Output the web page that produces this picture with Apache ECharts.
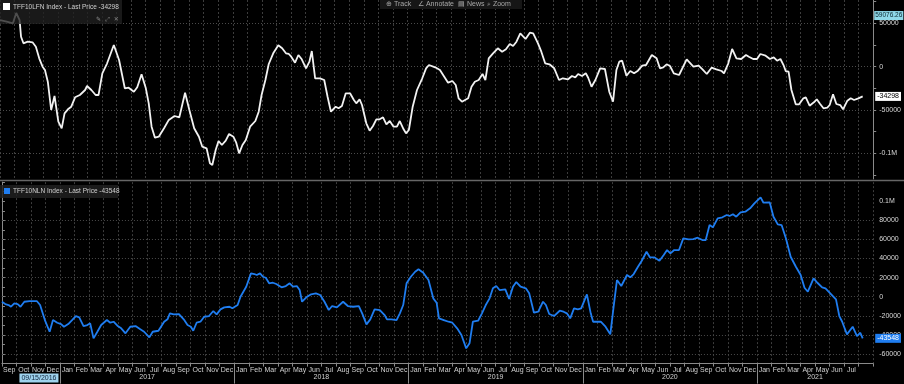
<!DOCTYPE html>
<html><head><meta charset="utf-8">
<script src="https://cdn.jsdelivr.net/npm/echarts@6/dist/echarts.min.js"></script>
<style>html,body{margin:0;padding:0;background:#000}#c{width:904px;height:384px}</style>
</head><body><div id="c"></div>
<script>
// ---------- DATA ----------
const topName = 'TFF10LFN Index - Last Price -34298';
const botName = 'TFF10NLN Index - Last Price -43548';
const topDates = ['2016-09-01','2016-09-15','2016-09-28','2016-10-05','2016-10-12','2016-10-15','2016-10-20','2016-10-29','2016-11-08','2016-11-15','2016-11-22','2016-11-29','2016-12-04','2016-12-10','2016-12-17','2016-12-24',
'2017-01-01','2017-01-08','2017-01-14','2017-01-21','2017-01-28','2017-02-05','2017-02-15','2017-02-26','2017-03-02','2017-03-11','2017-03-20','2017-03-26','2017-04-03','2017-04-13','2017-04-27','2017-05-08','2017-05-20','2017-05-28','2017-06-08','2017-06-15','2017-06-24','2017-07-03','2017-07-09','2017-07-15','2017-07-22','2017-07-30','2017-08-10','2017-08-20','2017-09-01','2017-09-11','2017-09-23','2017-10-02','2017-10-12','2017-10-22','2017-10-29','2017-11-07','2017-11-14','2017-11-19','2017-11-26','2017-12-02','2017-12-09','2017-12-17','2017-12-24',
'2018-01-02','2018-01-08','2018-01-14','2018-01-21','2018-01-28','2018-02-06','2018-02-17','2018-02-24','2018-03-02','2018-03-10','2018-03-17','2018-03-27','2018-04-06','2018-04-14','2018-04-22','2018-04-28','2018-05-03','2018-05-11','2018-05-18','2018-05-25','2018-06-03','2018-06-10','2018-06-15','2018-06-22','2018-07-02','2018-07-11','2018-07-18','2018-07-25','2018-08-04','2018-08-10','2018-08-17','2018-08-25','2018-09-03','2018-09-11','2018-09-16','2018-09-23','2018-09-28','2018-10-07','2018-10-14','2018-10-21','2018-10-28','2018-11-04','2018-11-11','2018-11-18','2018-11-25','2018-12-03','2018-12-10','2018-12-16','2018-12-24','2018-12-29',
'2019-01-04','2019-01-12','2019-01-21','2019-02-01','2019-02-09','2019-02-15','2019-02-28','2019-03-10','2019-03-19','2019-03-27','2019-04-05','2019-04-12','2019-04-18','2019-04-25','2019-05-08','2019-05-15','2019-05-22','2019-05-30','2019-06-07','2019-06-13','2019-06-20','2019-06-29','2019-07-09','2019-07-18','2019-07-26','2019-08-03','2019-08-10','2019-08-17','2019-08-25','2019-08-29','2019-09-05','2019-09-14','2019-09-21','2019-10-01','2019-10-08','2019-10-16','2019-10-25','2019-11-04','2019-11-14','2019-11-22','2019-12-03','2019-12-11','2019-12-18','2019-12-24',
'2020-01-01','2020-01-09','2020-01-14','2020-01-21','2020-01-29','2020-02-08','2020-02-18','2020-02-27','2020-03-06','2020-03-13','2020-03-19','2020-03-25','2020-04-03','2020-04-11','2020-04-19','2020-04-27','2020-05-06','2020-05-14','2020-05-26','2020-06-05','2020-06-12','2020-06-19','2020-06-26','2020-07-03','2020-07-11','2020-07-22','2020-08-07','2020-08-21','2020-09-01','2020-09-09','2020-09-18','2020-09-28','2020-10-08','2020-10-19','2020-10-24','2020-11-02','2020-11-10','2020-11-19','2020-11-29','2020-12-09','2020-12-15','2020-12-24',
'2021-01-01','2021-01-08','2021-01-19','2021-01-28','2021-02-05','2021-02-12','2021-02-19','2021-02-26','2021-03-02','2021-03-08','2021-03-14','2021-03-23','2021-03-30','2021-04-08','2021-04-13','2021-04-21','2021-04-30','2021-05-06','2021-05-13','2021-05-20','2021-05-28','2021-06-02','2021-06-09','2021-06-16','2021-06-24','2021-06-30','2021-07-09','2021-07-16','2021-07-23','2021-08-01','2021-08-10'];
const topValues = [53900,51960,50110,62000,53900,34640,27020,28870,28170,23090,9700,0,-3810,-17320,-50000,-33830,
-63510,-71130,-53810,-49190,-46190,-35330,-32670,-26900,-22290,-26900,-32670,-32670,-7620,3930,25060,7740,-24940,-24250,-28870,-23790,-8780,-24940,-42260,-69280,-81980,-80830,-71130,-61460,-56930,-58430,-30020,-50000,-71130,-80830,-92380,-94220,-111540,-113510,-96190,-85790,-90410,-85450,-77710,
-80830,-87760,-100000,-90410,-84640,-69280,-62700,-51960,-32680,-15360,3120,16170,24710,21250,15470,14670,11550,4620,13510,8540,-1850,5770,18130,-13390,-13390,-15360,-34640,-51960,-46190,-48040,-45380,-30720,-30720,-38450,-42260,-37640,-44230,-65360,-73900,-68470,-60740,-60740,-58430,-66510,-62700,-69280,-69280,-62700,-72280,-76900,
-73090,-46190,-26900,-13390,-1850,1960,-690,-3810,-11550,-18480,-16510,-21130,-36490,-40410,-36490,-23090,-17320,-15360,-8430,-15360,9700,15470,21250,17320,20090,26210,23900,28870,38570,38570,31990,39260,38570,27020,17320,3930,2770,-1850,-15360,-13390,-14550,-10740,-12240,-8430,
-10740,-7620,-12700,-23090,-15360,-1850,-2660,-28870,-40410,-3810,5770,6930,-10390,-4970,-7620,-4620,1150,1960,13510,9700,-1850,-690,2770,810,-7620,-9580,8540,0,1150,-3000,-8430,-1150,-3000,-4970,-7620,3930,20440,9700,8890,13510,11550,8890,
8890,14670,12700,8890,10850,6930,8890,1150,-4970,-5770,-26900,-43420,-43420,-36490,-35330,-45030,-41110,-37640,-43070,-48040,-47340,-44230,-31870,-43070,-44230,-49190,-39260,-36490,-38450,-36490,-34298];

const botDates = ['2016-09-01','2016-09-08','2016-09-15','2016-09-20','2016-09-27','2016-10-04','2016-10-10','2016-10-18','2016-10-29','2016-11-13','2016-11-20','2016-11-30','2016-12-10','2016-12-17','2016-12-26',
'2017-01-03','2017-01-09','2017-01-18','2017-01-26','2017-02-03','2017-02-10','2017-02-19','2017-02-27','2017-03-05','2017-03-12','2017-03-20','2017-03-28','2017-04-09','2017-04-16','2017-04-23','2017-05-01','2017-05-09','2017-05-18','2017-05-28','2017-06-08','2017-06-18','2017-06-26','2017-07-07','2017-07-14','2017-07-26','2017-08-07','2017-08-14','2017-08-19','2017-08-27','2017-09-07','2017-09-17','2017-09-25','2017-10-02','2017-10-07','2017-10-14','2017-10-22','2017-10-30','2017-11-09','2017-11-18','2017-11-25','2017-12-03','2017-12-11','2017-12-22','2017-12-28',
'2018-01-08','2018-01-14','2018-01-26','2018-02-05','2018-02-12','2018-02-17','2018-02-24','2018-03-02','2018-03-08','2018-03-15','2018-03-23','2018-03-30','2018-04-10','2018-04-19','2018-04-27','2018-05-04','2018-05-12','2018-05-18','2018-05-23','2018-06-01','2018-06-11','2018-06-21','2018-06-30','2018-07-09','2018-07-18','2018-07-25','2018-08-04','2018-08-17','2018-08-27','2018-09-07','2018-09-19','2018-09-26','2018-10-05','2018-10-13','2018-10-22','2018-11-02','2018-11-12','2018-11-17','2018-11-26','2018-12-07','2018-12-14','2018-12-21','2018-12-28',
'2019-01-06','2019-01-15','2019-01-22','2019-02-01','2019-02-12','2019-02-22','2019-03-01','2019-03-06','2019-03-16','2019-03-26','2019-04-03','2019-04-13','2019-04-22','2019-05-02','2019-05-09','2019-05-16','2019-05-27','2019-06-04','2019-06-12','2019-06-20','2019-06-27','2019-07-04','2019-07-11','2019-07-23','2019-07-31','2019-08-08','2019-08-15','2019-08-24','2019-09-04','2019-09-11','2019-09-21','2019-09-30','2019-10-10','2019-10-16','2019-10-23','2019-11-02','2019-11-14','2019-11-22','2019-11-29','2019-12-06','2019-12-14','2019-12-22','2019-12-29',
'2020-01-10','2020-01-18','2020-01-23','2020-02-08','2020-02-18','2020-02-28','2020-03-06','2020-03-13','2020-03-22','2020-03-26','2020-04-03','2020-04-10','2020-04-17','2020-04-26','2020-05-04','2020-05-14','2020-05-21','2020-05-30','2020-06-10','2020-06-19','2020-06-26','2020-07-03','2020-07-11','2020-07-21','2020-07-30','2020-08-10','2020-08-20','2020-08-29','2020-09-08','2020-09-15','2020-09-23','2020-09-30','2020-10-10','2020-10-20','2020-10-29','2020-11-04','2020-11-11','2020-11-18','2020-11-27','2020-12-07','2020-12-17','2020-12-26',
'2021-01-08','2021-01-14','2021-01-27','2021-02-04','2021-02-13','2021-02-21','2021-03-02','2021-03-12','2021-03-23','2021-04-02','2021-04-10','2021-04-17','2021-04-29','2021-05-07','2021-05-17','2021-05-24','2021-06-03','2021-06-15','2021-06-22','2021-06-28','2021-07-08','2021-07-20','2021-07-29','2021-08-05','2021-08-10'];
const botValues = [-5240,-7640,-8690,-10470,-6910,-7640,-10470,-5240,-4500,-4500,-8690,-24400,-36650,-24400,-27220,
-28580,-31410,-28580,-24400,-20210,-21570,-30680,-29630,-27850,-43560,-36650,-29630,-24400,-27220,-26180,-30360,-33090,-38320,-31410,-30680,-34130,-36650,-42510,-36650,-35600,-26180,-23660,-17380,-18430,-18110,-23660,-29630,-31410,-35600,-27220,-26180,-20940,-20210,-14970,-18430,-13190,-11100,-10470,-12150,
-8690,0,10470,24500,23770,22720,24500,20940,19890,14030,14660,13300,9840,11200,14030,10470,11200,7010,-5240,-630,2510,3560,1780,-5240,-13930,-9740,-11100,-5240,-9740,-10470,-9740,-17380,-28900,-23660,-13190,-13930,-19160,-23660,-23660,-24400,-17380,-8690,14030,
20940,26180,28690,25130,17490,-1680,-6280,-22620,-24400,-26180,-27220,-33090,-40100,-54030,-48790,-26180,-25130,-17380,-8690,-1680,8790,11200,7010,7750,-2410,10470,15390,10470,8790,3560,-16750,-15700,-5240,-8690,-18110,-20210,-14660,-15700,-17380,-22620,-12150,-13190,-12150,
2510,-17380,-26180,-26180,-31410,-39370,-10470,17490,11200,11200,22720,20310,23770,31410,37690,47120,41250,41250,37690,43660,48890,45440,48890,48890,61140,60100,60410,61770,59360,59360,75070,72660,82080,83130,85540,84490,86270,83760,88370,88990,92550,97790,
104070,98420,98840,83760,75800,75070,61140,41880,31410,22720,9420,5240,19260,14660,9840,8790,3560,-2720,-20210,-26180,-39370,-31410,-41150,-37690,-43548];

const monthLabels = ['Sep','Oct','Nov','Dec',
'Jan','Feb','Mar','Apr','May','Jun','Jul','Aug','Sep','Oct','Nov','Dec',
'Jan','Feb','Mar','Apr','May','Jun','Jul','Aug','Sep','Oct','Nov','Dec',
'Jan','Feb','Mar','Apr','May','Jun','Jul','Aug','Sep','Oct','Nov','Dec',
'Jan','Feb','Mar','Apr','May','Jun','Jul','Aug','Sep','Oct','Nov','Dec',
'Jan','Feb','Mar','Apr','May','Jun','Jul','Aug'];
const yearLabels = ['2017','2018','2019','2020','2021'];
const startDateLabel = '09/15/2016';
const xStart = '2016-09-01', xEnd = '2021-09-01';
const topTickVals = [75000,50000,25000,0,-25000,-50000,-75000,-100000,-125000];
const topLabelVals = [50000,0,-50000,-100000];
const botGridVals = [80000,60000,40000,20000,0,-20000,-40000,-60000];
const topLast = -34298, botLast = -43548, topMarker = 59076.26;

// ---------- CHART ----------
const FONT = 'Liberation Sans, Arial, sans-serif';
const topMin = -129670, topMax = 77020;
const nM = monthLabels.length;
const firstJan = monthLabels.indexOf('Jan');
const yearPos = yearLabels.map((y, k) => {
  const s = firstJan + 12 * k, e = Math.min(s + 12, nM);
  return (s + e) / 2;
});
const sepPos = yearLabels.map((y, k) => firstJan + 12 * k);
const datePos = firstJan / 2 + 0.55;

const gridLine = {color: '#4a4a4a', type: [1, 2], width: 1};
const monthSplit = {show: true, interval: 0, lineStyle: {color: '#3c3c3c', type: [2, 2], width: 1}};
const hidden = {color: 'rgba(0,0,0,0)', width: 0.01};

const chart = echarts.init(document.getElementById('c'), null, {renderer: 'canvas'});
chart.setOption({
  backgroundColor: '#000',
  animation: false,
  textStyle: {fontFamily: FONT},
  grid: [
    {left: 0, right: 28, top: 0, height: 179},
    {left: 0, right: 28, top: 182.1, height: 181.5}
  ],
  xAxis: [
    {type: 'time', gridIndex: 0, min: xStart, max: xEnd, show: false},
    {type: 'category', gridIndex: 0, data: monthLabels, boundaryGap: true,
     axisLine: {show: false}, axisTick: {show: false}, axisLabel: {show: false}, splitLine: monthSplit},
    {type: 'time', gridIndex: 1, min: xStart, max: xEnd, show: false},
    {type: 'category', gridIndex: 1, data: monthLabels, boundaryGap: true, position: 'bottom',
     axisLine: {show: true, lineStyle: {color: '#8a8a8a', width: 1}},
     axisTick: {show: true, interval: 0, length: 3, lineStyle: {color: '#8a8a8a'}},
     axisLabel: {interval: 0, color: '#d0d0d0', fontSize: 7, margin: 3, fontFamily: FONT,
       formatter: (v, i) => i === nM - 1 ? '' : v},
     splitLine: monthSplit},
    {type: 'value', gridIndex: 1, min: 0, max: nM, position: 'bottom',
     axisLine: {show: false}, splitLine: {show: false},
     axisTick: {show: true, customValues: sepPos, length: 20, inside: false, lineStyle: {color: '#8a8a8a'}},
     axisLabel: {customValues: [datePos].concat(yearPos), margin: 10, fontSize: 7, color: '#d0d0d0', fontFamily: FONT,
       formatter: v => {
         if (Math.abs(v - datePos) < 1e-6) return '{d|' + startDateLabel + '}';
         const i = yearPos.findIndex(p => Math.abs(p - v) < 1e-6);
         return i >= 0 ? yearLabels[i] : '';
       },
       rich: {d: {backgroundColor: '#9fd3ee', color: '#10243a', fontSize: 7, padding: [1, 2]}}}}
  ],
  yAxis: [
    {type: 'value', gridIndex: 0, position: 'right', min: topMin, max: topMax,
     axisLine: {show: true, lineStyle: {color: '#8a8a8a'}},
     axisTick: {show: true, customValues: topTickVals, length: 3, lineStyle: {color: '#8a8a8a'}},
     axisLabel: {customValues: topLabelVals, color: '#d8d8d8', fontSize: 7, margin: 6, fontFamily: FONT,
       formatter: v => v === -100000 ? '-0.1M' : String(v)},
     splitLine: {show: false}},
    {type: 'value', gridIndex: 1, position: 'right', min: -70000, max: 120000, interval: 10000,
     axisLine: {show: true, lineStyle: {color: '#8a8a8a'}},
     axisTick: {show: true, length: 3, lineStyle: {color: '#8a8a8a'}},
     axisLabel: {color: '#d8d8d8', fontSize: 7, margin: 6, fontFamily: FONT,
       formatter: v => (v % 20000 === 0 && v >= -60000 && v <= 100000) ? (v === 100000 ? '0.1M' : String(v)) : ''},
     splitLine: {show: false}}
  ],
  series: [
    {type: 'line', xAxisIndex: 0, yAxisIndex: 0, showSymbol: false, symbol: 'none',
     data: topDates.map((d, i) => [d, topValues[i]]),
     lineStyle: {color: '#f2f2f2', width: 1.8}, z: 5,
     markLine: {silent: true, symbol: 'none', animation: false,
       lineStyle: gridLine, label: {show: false},
       data: topLabelVals.map(v => ({yAxis: v})).concat([
         {yAxis: topLast, lineStyle: hidden,
          label: {show: true, position: 'end', distance: 2, formatter: String(topLast), backgroundColor: '#ffffff',
                  color: '#000', fontSize: 7, padding: [1, 2], fontFamily: FONT}},
         {yAxis: topMarker, lineStyle: hidden,
          label: {show: true, position: 'end', distance: 1, formatter: String(topMarker), backgroundColor: '#8fd8e8',
                  color: '#0d2a33', fontSize: 6.5, padding: [1, 1], fontFamily: FONT}}
       ])}},
    {type: 'line', xAxisIndex: 2, yAxisIndex: 1, showSymbol: false, symbol: 'none',
     data: botDates.map((d, i) => [d, botValues[i]]),
     lineStyle: {color: '#1f7df0', width: 1.8}, z: 5,
     markLine: {silent: true, symbol: 'none', animation: false,
       lineStyle: gridLine, label: {show: false},
       data: botGridVals.map(v => ({yAxis: v})).concat([
         {yAxis: botLast, lineStyle: hidden,
          label: {show: true, position: 'end', distance: 2, formatter: String(botLast), backgroundColor: '#1f7df0',
                  color: '#ffffff', fontSize: 7, padding: [1, 2], fontFamily: FONT}}
       ])}}
  ],
  graphic: [
    {type: 'line', shape: {x1: 0, y1: 180.5, x2: 904, y2: 180.5}, style: {stroke: '#666', lineWidth: 1.5}, z: 20},
    {type: 'rect', shape: {x: 380, y: 0, width: 142, height: 9}, style: {fill: '#161616'}, z: 20},
    {type: 'text', x: 386, y: 4.5, style: {text: '⊕ Track', fill: '#a8a8a8', fontSize: 7, fontFamily: FONT, verticalAlign: 'middle'}, z: 21},
    {type: 'text', x: 418, y: 4.5, style: {text: '∠ Annotate', fill: '#a8a8a8', fontSize: 7, fontFamily: FONT, verticalAlign: 'middle'}, z: 21},
    {type: 'text', x: 458, y: 4.5, style: {text: '▤ News', fill: '#a8a8a8', fontSize: 7, fontFamily: FONT, verticalAlign: 'middle'}, z: 21},
    {type: 'text', x: 487, y: 4.5, style: {text: '⌕ Zoom', fill: '#a8a8a8', fontSize: 7, fontFamily: FONT, verticalAlign: 'middle'}, z: 21},
    {type: 'rect', shape: {x: 0, y: 0, width: 122, height: 24}, style: {fill: 'rgba(32,32,32,0.78)'}, z: 20},
    {type: 'rect', shape: {x: 3, y: 3, width: 7, height: 7}, style: {fill: '#ffffff'}, z: 21},
    {type: 'text', x: 13, y: 7, style: {text: topName, fill: '#d0d0d0', fontSize: 6.5, fontFamily: FONT, verticalAlign: 'middle'}, z: 21},
    {type: 'text', x: 96, y: 19, style: {text: '✎  ⤢  ✕', fill: '#8a8a8a', fontSize: 6, fontFamily: 'DejaVu Sans', verticalAlign: 'middle'}, z: 21},
    {type: 'rect', shape: {x: 0, y: 185, width: 118, height: 13}, style: {fill: 'rgba(32,32,32,0.85)'}, z: 20},
    {type: 'rect', shape: {x: 4, y: 188, width: 6, height: 6}, style: {fill: '#1f7df0'}, z: 21},
    {type: 'text', x: 13, y: 191.5, style: {text: botName, fill: '#d0d0d0', fontSize: 6.5, fontFamily: FONT, verticalAlign: 'middle'}, z: 21}
  ]
});
</script></body></html>
